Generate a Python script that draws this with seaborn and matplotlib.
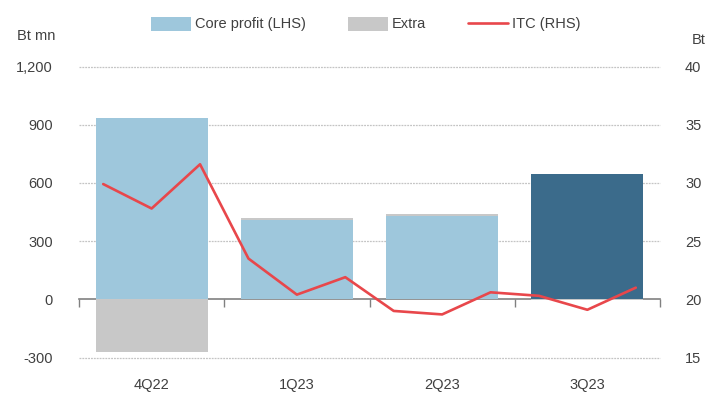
import matplotlib
matplotlib.use("Agg")
import matplotlib.pyplot as plt
import seaborn as sns
import pandas as pd
import numpy as np
from matplotlib.patches import Patch
from matplotlib.lines import Line2D

# ---- data ----
quarters = ["4Q22", "1Q23", "2Q23", "3Q23"]
core_profit = [935, 410, 430, 645]
extra = [-272, 8, 12, -5]
months = ["Oct-22", "Nov-22", "Dec-22", "Jan-23", "Feb-23", "Mar-23",
          "Apr-23", "May-23", "Jun-23", "Jul-23", "Aug-23", "Sep-23"]
itc_price = [29.9, 27.8, 31.6, 23.5, 20.4, 21.9, 19.0, 18.7, 20.6, 20.3, 19.1, 21.0]
left_ticks = [-300, 0, 300, 600, 900, 1200]
right_ticks = [15, 20, 25, 30, 35, 40]

sns.set_theme(style="white")
plt.rcParams['font.family'] = ['Liberation Sans', 'DejaVu Sans']

light_blue = "#9EC7DC"
dark_blue = "#3B6B8B"
grey = "#C8C8C8"
red = "#E8474B"
txt = "#404040"
fs = 10.5

fig = plt.figure(figsize=(7.08, 4.03), dpi=100)
ax = fig.add_axes([79/708, 45.5/403, 581/708, 291/403])

df = pd.DataFrame({"q": quarters, "core": core_profit, "extra": extra})
df["extra_draw"] = [c + e if e > 0 else e for c, e in zip(core_profit, extra)]

sns.barplot(data=df, x="q", y="extra_draw", hue="q", palette=[grey]*4,
            width=0.77, legend=False, ax=ax, linewidth=0, saturation=1)
sns.barplot(data=df, x="q", y="core", hue="q",
            palette=[light_blue, light_blue, light_blue, dark_blue],
            width=0.77, legend=False, ax=ax, linewidth=0, saturation=1)

ax.set_xlim(-0.5, len(quarters) - 0.5)
ax.set_ylim(-300, 1200)
ax.set_yticks(left_ticks)
ax.set_yticklabels([f"{v:,}" for v in left_ticks])
ax.set_xlabel("")
ax.set_ylabel("")
for s in ax.spines.values():
    s.set_visible(False)
for v in left_ticks:
    if v != 0:
        ax.axhline(v, color="#C4C4C4", lw=0.9, ls=(0, (1.5, 0.8)), zorder=0, clip_on=False)
ax.tick_params(axis="y", length=0, pad=19, labelsize=fs, labelcolor=txt)
ax.tick_params(axis="x", length=0, pad=15, labelsize=fs, labelcolor=txt)

# zero axis with category-boundary ticks
sec = ax.secondary_xaxis(300/1500)
sec.set_xticks(np.arange(-0.5, len(quarters), 1.0))
sec.set_xticklabels([])
sec.tick_params(axis="x", direction="out", length=6, width=1, color="#808080")
for k, s in sec.spines.items():
    if k == "bottom":
        s.set_color("#808080")
        s.set_linewidth(1.2)
    else:
        s.set_visible(False)

ax2 = ax.twinx()
x_line = [(k - 1) / 3 for k in range(len(months))]
sns.lineplot(x=x_line, y=itc_price, color=red, lw=1.9, ax=ax2)
ax2.set_ylim(15, 40)
ax2.set_yticks(right_ticks)
ax2.tick_params(axis="y", length=0, pad=18, labelsize=fs, labelcolor=txt)
for s in ax2.spines.values():
    s.set_visible(False)
ax2.grid(False)
ax2.set_xlim(-0.5, len(quarters) - 0.5)

fig.text(17/708, 1 - 36/403, "Bt mn", fontsize=fs, color=txt, va="center", ha="left")
fig.text(692/708, 1 - 40/403, "Bt", fontsize=fs, color=txt, va="center", ha="left")

handles = [Patch(facecolor=light_blue, edgecolor="none"),
           Patch(facecolor=grey, edgecolor="none"),
           Line2D([0], [0], color=red, lw=1.9)]
labels = ["Core profit (LHS)", "Extra", "ITC (RHS)"]
fig.legend(handles, labels, loc="center", bbox_to_anchor=(366/708, 1 - 24/403),
           ncol=3, frameon=False, fontsize=fs, handlelength=2.7, handleheight=1.1,
           columnspacing=2.9, handletextpad=0.3, labelcolor=txt)

fig.savefig("out.png", dpi=100)
